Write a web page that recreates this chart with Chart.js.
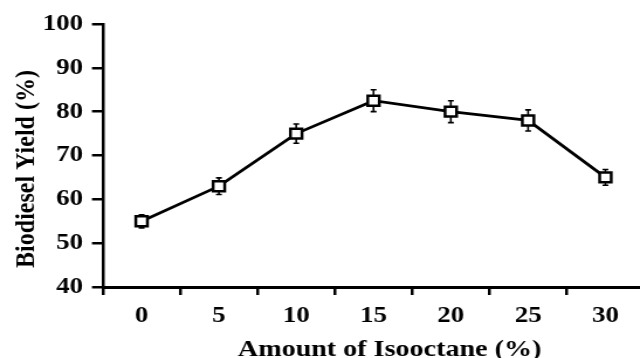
<!DOCTYPE html>
<html>
<head>
<meta charset="utf-8">
<script src="https://cdn.jsdelivr.net/npm/chart.js@4.4.0/dist/chart.umd.min.js"></script>
<style>
    html, body { margin: 0; padding: 0; background: #fff; overflow: hidden; width: 640px; height: 358px; }
    /* the source figure is stretched sideways, so the whole chart is too */
    #wrap { width: 560px; height: 358px; transform: scaleX(1.17); transform-origin: 0 0; }
</style>
</head>
<body>
<div id="wrap"><canvas id="chart"></canvas></div>
<script>
const isooctane = ['0', '5', '10', '15', '20', '25', '30'];
const biodieselYield = [55, 63, 75, 82.5, 80, 78, 65];
const yieldError = [1.5, 1.9, 2.2, 2.5, 2.5, 2.4, 1.8];
const yMin = 40;
const yMax = 100;
const yStep = 10;
const xTitle = 'Amount of Isooctane (%)';
const yTitle = 'Biodiesel Yield (%)';

const serif = "'Liberation Serif', 'Times New Roman', serif";
const tickFont = { family: serif, size: 23, weight: 'bold' };

// error bars, drawn under the markers
const errorBars = {
    id: 'errorBars',
    beforeDatasetsDraw(chart) {
        const ctx = chart.ctx;
        const yScale = chart.scales.y;
        const points = chart.getDatasetMeta(0).data;
        ctx.save();
        ctx.strokeStyle = '#000';
        ctx.lineWidth = 1.6;
        points.forEach((pt, i) => {
            const top = yScale.getPixelForValue(biodieselYield[i] + yieldError[i]);
            const bottom = yScale.getPixelForValue(biodieselYield[i] - yieldError[i]);
            ctx.beginPath();
            ctx.moveTo(pt.x, top);
            ctx.lineTo(pt.x, bottom);
            ctx.moveTo(pt.x - 2.5, top);
            ctx.lineTo(pt.x + 2.5, top);
            ctx.moveTo(pt.x - 2.5, bottom);
            ctx.lineTo(pt.x + 2.5, bottom);
            ctx.stroke();
        });
        ctx.restore();
    }
};

const axisTitles = {
    id: 'axisTitles',
    afterDraw(chart) {
        const ctx = chart.ctx;
        ctx.save();
        ctx.fillStyle = '#000';
        ctx.font = `bold 24px ${serif}`;
        ctx.textAlign = 'center';
        ctx.textBaseline = 'alphabetic';
        ctx.fillText(xTitle, 333, 356);
        ctx.translate(28.5, 169);
        ctx.rotate(-Math.PI / 2);
        ctx.fillText(yTitle, 0, 0);
        ctx.restore();
    }
};

new Chart(document.getElementById('chart'), {
    type: 'line',
    data: {
        labels: isooctane,
        datasets: [{
            data: biodieselYield,
            borderColor: '#000',
            borderWidth: 2.8,
            pointStyle: 'rect',
            pointRadius: 7,
            pointBorderWidth: 2.5,
            pointBackgroundColor: '#fff',
            pointBorderColor: '#000',
            tension: 0
        }]
    },
    options: {
        responsive: true,
        maintainAspectRatio: false,
        animation: false,
        layout: { padding: { top: 24, right: 8.4, bottom: 0, left: 0 } },
        plugins: {
            legend: { display: false },
            tooltip: { enabled: false }
        },
        scales: {
            x: {
                offset: true,
                grid: { offset: true, drawOnChartArea: false, tickLength: 8, lineWidth: 2.5, color: '#000' },
                border: { color: '#000', width: 3 },
                ticks: { color: '#000', font: tickFont, padding: 7, maxRotation: 0, autoSkip: false },
                afterFit: s => { s.height = 71; }
            },
            y: {
                min: yMin,
                max: yMax,
                grid: { drawOnChartArea: false, tickLength: 9.4, lineWidth: 2.5, color: '#000' },
                border: { color: '#000', width: 2.5 },
                ticks: { stepSize: yStep, color: '#000', font: tickFont, padding: 7.6 },
                afterFit: s => { s.width = 88; }
            }
        }
    },
    plugins: [errorBars, axisTitles]
});
</script>
</body>
</html>
